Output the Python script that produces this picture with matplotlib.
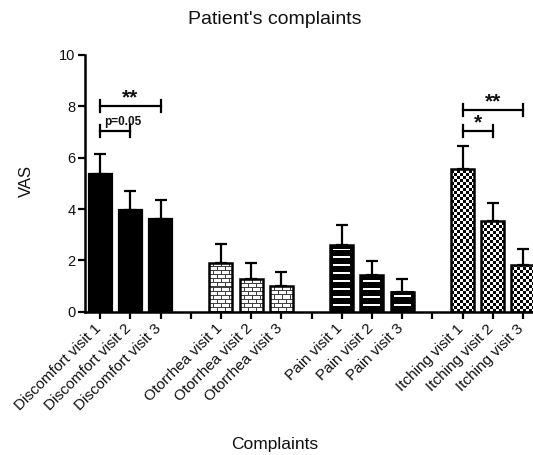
import numpy as np
import matplotlib
matplotlib.use("Agg")
import matplotlib.pyplot as plt
from matplotlib.transforms import ScaledTranslation

plt.rcParams["font.family"] = ["Liberation Sans", "DejaVu Sans"]

# ---- data ---------------------------------------------------------------
groups = ["Discomfort", "Otorrhea", "Pain", "Itching"]
visits = ["visit 1", "visit 2", "visit 3"]

discomfort_mean = [5.38, 3.95, 3.60]
discomfort_sem = [0.78, 0.75, 0.77]
otorrhea_mean = [1.88, 1.28, 1.02]
otorrhea_sem = [0.74, 0.63, 0.53]
pain_mean = [2.60, 1.44, 0.78]
pain_sem = [0.78, 0.53, 0.50]
itching_mean = [5.55, 3.53, 1.82]
itching_sem = [0.92, 0.72, 0.61]

y_ticks = [0, 2, 4, 6, 8, 10]

# significance brackets: (group, first visit, second visit, label, height)
sig_brackets = [
    ("Discomfort", 0, 2, "**", 8.0),
    ("Discomfort", 0, 1, "p=0.05", 7.05),
    ("Itching", 0, 2, "**", 7.85),
    ("Itching", 0, 1, "*", 7.05),
]

means = [discomfort_mean, otorrhea_mean, pain_mean, itching_mean]
sems = [discomfort_sem, otorrhea_sem, pain_sem, itching_sem]
patterns = ["solid", "brick", "stripes", "checker"]

# ---- figure -------------------------------------------------------------
W_PX, H_PX = 533, 455
fig = plt.figure(figsize=(W_PX / 100, H_PX / 100), dpi=100)
ax_left, ax_right, ax_top, ax_bot = 85, 538, 55, 311.7
ax = fig.add_axes([ax_left / W_PX, (H_PX - ax_bot) / H_PX,
                   (ax_right - ax_left) / W_PX, (ax_bot - ax_top) / H_PX])
ax.set_xlim(-0.5, 14.5)
ax.set_ylim(0, 10)
px_x = (ax_right - ax_left) / 15.0
px_y = (ax_bot - ax_top) / 10.0

bar_w = 0.76


def texture(kind, h, w):
    yy, xx = np.mgrid[0:h, 0:w]
    if kind == "brick":
        arr = np.ones((h, w))
        row = yy // 4
        horiz = (yy % 4) == 0
        off = np.where(row % 2 == 0, 0, 4)
        vert = ((xx - off) % 8) == 0
        arr[horiz | vert] = 0.25
        return arr
    if kind == "stripes":
        arr = np.zeros((h, w))
        band = ((yy - 6) % 8 < 2) & (yy >= 6) & (yy < h - 4) & (xx >= 3) & (xx < w - 3)
        arr[band] = 1.0
        return arr
    if kind == "checker":
        return ((xx // 3 + yy // 3) % 2).astype(float)
    return np.zeros((h, w))


positions = {}
tick_pos, tick_lab = [], []
for gi, g in enumerate(groups):
    xs = [gi * 4 + k for k in range(3)]
    positions[g] = xs
    for k, x in enumerate(xs):
        m = means[gi][k]
        kind = patterns[gi]
        if kind == "solid":
            ax.bar(x, m, width=bar_w, color="black", edgecolor="black",
                   linewidth=1.6, zorder=3)
        else:
            h = max(int(round(m * px_y)), 1)
            w = int(round(bar_w * px_x))
            ax.imshow(texture(kind, h, w), extent=(x - bar_w / 2, x + bar_w / 2, 0, m),
                      origin="lower", cmap="gray", vmin=0, vmax=1,
                      interpolation="nearest", aspect="auto", zorder=2)
            ax.bar(x, m, width=bar_w, facecolor="none", edgecolor="black",
                   linewidth=1.8, zorder=3)
        tick_lab.append(f"{g} {visits[k]}")
    ax.errorbar(xs, means[gi], yerr=[np.zeros(3), sems[gi]], fmt="none",
                ecolor="black", elinewidth=1.6, capsize=4, capthick=1.6, zorder=4)
    tick_pos += xs

ax.set_xlim(-0.5, 14.5)
ax.set_ylim(0, 10)

# ticks: every slot gets a tick mark, gaps stay unlabeled
all_ticks = list(range(15))
labels = []
for t in all_ticks:
    labels.append(tick_lab[tick_pos.index(t)] if t in tick_pos else "")
ax.set_xticks(all_ticks)
ax.set_yticks(y_ticks)
ax.tick_params(axis="both", direction="out", length=5, width=1.6, pad=2)
ax.set_xticklabels(labels, rotation=45, ha="right", rotation_mode="anchor",
                   fontsize=11, color="#111111")
ax.set_yticklabels([str(v) for v in y_ticks], fontsize=10.5, color="#111111")
shift = ScaledTranslation(-6 / 100, 0, fig.dpi_scale_trans)
for tick in ax.xaxis.get_major_ticks():
    tick.label1.set_transform(tick.label1.get_transform() + shift)

for side in ["top", "right"]:
    ax.spines[side].set_visible(False)
for side in ["left", "bottom"]:
    ax.spines[side].set_linewidth(1.8)

# significance brackets
cap = 6 / px_y
for g, i, j, lab, yb in sig_brackets:
    x1, x2 = positions[g][i], positions[g][j]
    ax.plot([x1, x2], [yb, yb], color="black", lw=1.6, zorder=5, clip_on=False)
    for xe in (x1, x2):
        ax.plot([xe, xe], [yb - cap, yb + cap], color="black", lw=1.6,
                zorder=5, clip_on=False)
    xm = (x1 + x2) / 2
    if lab.startswith("p"):
        ax.text(xm + 0.25, yb + 0.12, lab, ha="center", va="bottom",
                fontsize=8.5, fontweight="bold", color="#111111")
    else:
        ax.text(xm, yb + 0.1, lab, ha="center", va="baseline",
                fontsize=15, fontweight="bold", color="#111111")

fig.text(275 / W_PX, 1 - 19 / H_PX, "Patient's complaints", ha="center",
         va="center", fontsize=14, color="#111111")
fig.text(275 / W_PX, 1 - 445 / H_PX, "Complaints", ha="center", va="center",
         fontsize=12.5, color="#111111")
fig.text(26 / W_PX, 1 - 181 / H_PX, "VAS", ha="center", va="center",
         rotation=90, fontsize=12, color="#111111")

fig.savefig("out.png", dpi=100)
